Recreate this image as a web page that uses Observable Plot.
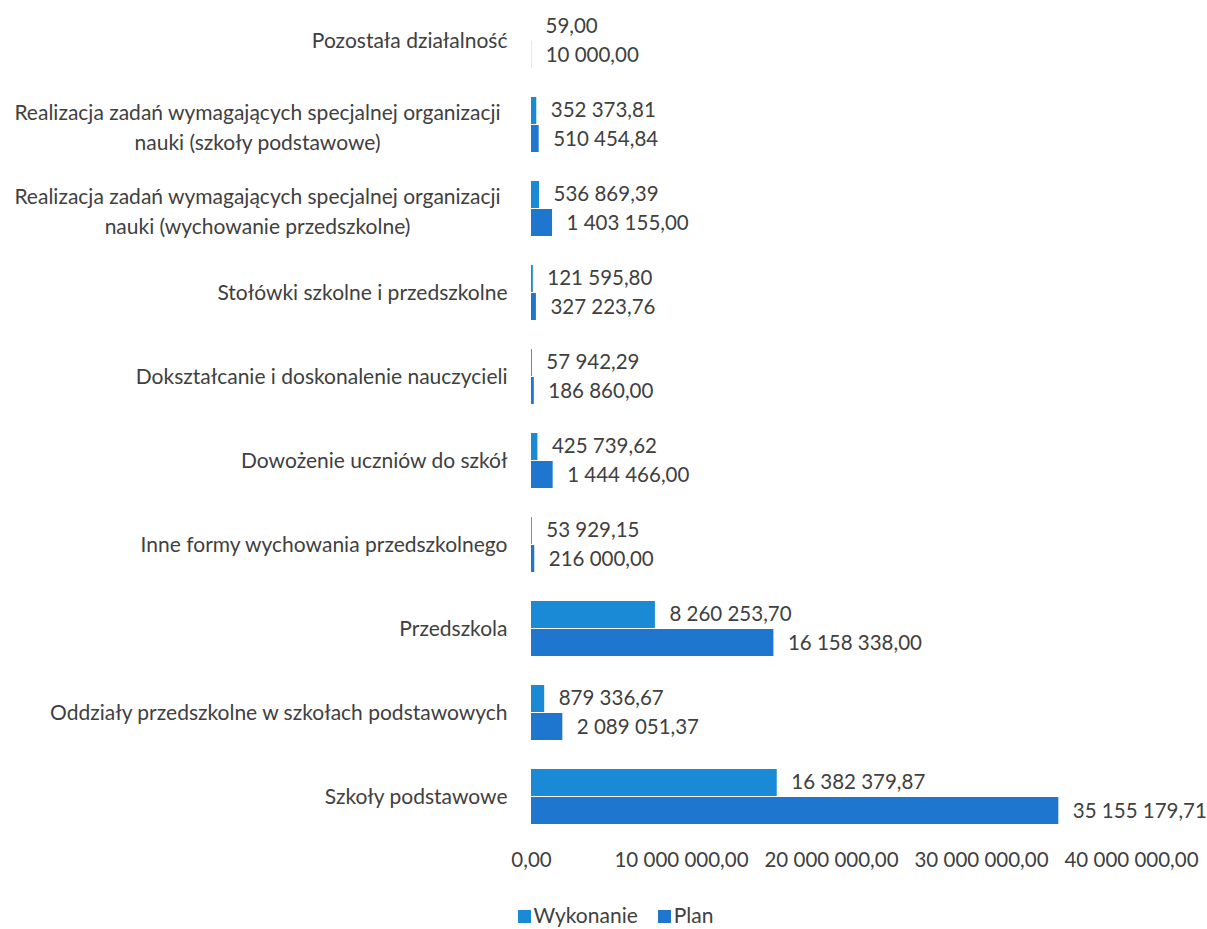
<!DOCTYPE html>
<html>
<head>
<meta charset="utf-8">
<script src="https://cdn.jsdelivr.net/npm/d3@7"></script>
<script src="https://cdn.jsdelivr.net/npm/@observablehq/plot@0.6"></script>
<style>
  body { margin: 0; background: #fff; font-family: Lato, sans-serif; }
  #legend { display: flex; justify-content: center; gap: 20px; font-size: 21px; color: #404040; padding-left: 24px; margin-top: 17px; }
  #legend span.sw { display: inline-block; width: 13px; height: 13px; margin-right: 3px; vertical-align: 0px; }
</style>
</head>
<body>
<div id="chart"></div>
<div id="legend"></div>
<script>
const categories = [
  "Pozostała działalność",
  "Realizacja zadań wymagających specjalnej organizacji\nnauki (szkoły podstawowe)",
  "Realizacja zadań wymagających specjalnej organizacji\nnauki (wychowanie przedszkolne)",
  "Stołówki szkolne i przedszkolne",
  "Dokształcanie i doskonalenie nauczycieli",
  "Dowożenie uczniów do szkół",
  "Inne formy wychowania przedszkolnego",
  "Przedszkola",
  "Oddziały przedszkolne w szkołach podstawowych",
  "Szkoły podstawowe"
];
const wykonanie = [59.00, 352373.81, 536869.39, 121595.80, 57942.29, 425739.62, 53929.15, 8260253.70, 879336.67, 16382379.87];
const plan = [10000.00, 510454.84, 1403155.00, 327223.76, 186860.00, 1444466.00, 216000.00, 16158338.00, 2089051.37, 35155179.71];
const xTicks = [0, 10000000, 20000000, 30000000, 40000000];
const seriesNames = ["Wykonanie", "Plan"];
const seriesColors = ["#1a8ad6", "#1f76cf"];

const fmt = d3.formatLocale({decimal: ",", thousands: " ", grouping: [3], currency: ["", ""]}).format(",.2f");
const rows = categories.map((c, i) => ({category: c, wyk: wykonanie[i], plan: plan[i]}));
const single = categories.filter(c => !c.includes("\n"));
const multi = categories.filter(c => c.includes("\n"));
const textColor = "#404040";

const chart = Plot.plot({
  width: 1207,
  height: 885,
  marginLeft: 531,
  marginRight: 76,
  marginTop: 4,
  marginBottom: 52,
  style: {fontFamily: "Lato, sans-serif", fontSize: "21px", color: textColor, background: "#fff"},
  x: {domain: [0, 40000000]},
  y: {domain: categories, paddingInner: 0.345, paddingOuter: 0.1},
  marks: [
    Plot.barX(rows, {x: "wyk", y: "category", fill: seriesColors[0], insetBottom: 28}),
    Plot.barX(rows, {x: "plan", y: "category", fill: seriesColors[1], insetTop: 28}),
    Plot.text(rows, {x: "wyk", y: "category", text: d => fmt(d.wyk), textAnchor: "start", dx: 14, dy: -15, fill: textColor, fontSize: 20.5}),
    Plot.text(rows, {x: "plan", y: "category", text: d => fmt(d.plan), textAnchor: "start", dx: 14, dy: 14, fill: textColor, fontSize: 20.5}),
    Plot.axisY(single, {tickSize: 0, tickPadding: 24, label: null, fontSize: 21, fill: textColor}),
    Plot.axisY(multi, {tickSize: 0, tickPadding: 274, textAnchor: "middle", lineHeight: 1.43, label: null, fontSize: 21, fill: textColor}),
    Plot.axisX(xTicks, {tickSize: 0, tickPadding: 19, tickFormat: fmt, label: null, fontSize: 20.5, fill: textColor})
  ]
});
document.getElementById("chart").append(chart);

document.getElementById("legend").innerHTML = seriesNames.map((n, i) =>
  `<span><span class="sw" style="background:${seriesColors[i]}"></span>${n}</span>`).join("");
</script>
</body>
</html>
